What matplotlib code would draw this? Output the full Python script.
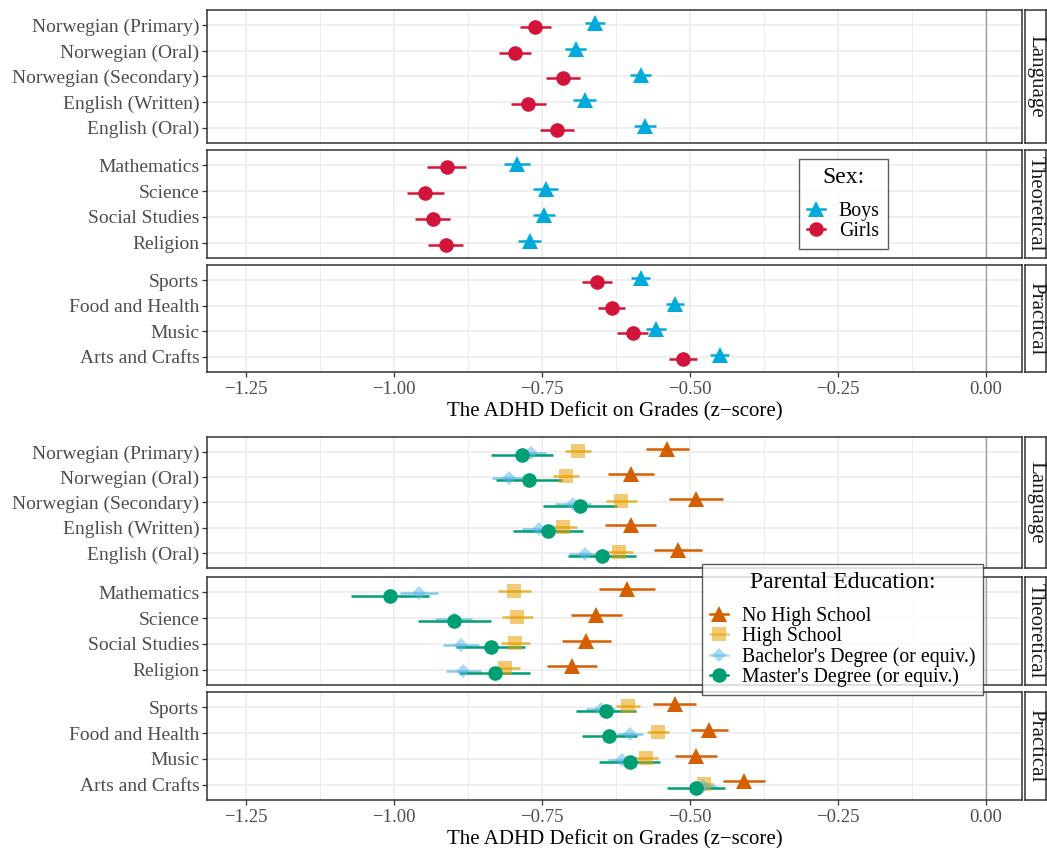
import matplotlib
matplotlib.use("Agg")
import matplotlib.pyplot as plt
from matplotlib.lines import Line2D
from matplotlib.ticker import MultipleLocator
import numpy as np

plt.rcParams["font.family"] = ["Liberation Serif", "DejaVu Serif"]

# subjects, grouped into facets
facets = ["Language", "Theoretical", "Practical"]
lang = ["Norwegian (Primary)", "Norwegian (Oral)", "Norwegian (Secondary)",
        "English (Written)", "English (Oral)"]
theo = ["Mathematics", "Science", "Social Studies", "Religion"]
prac = ["Sports", "Food and Health", "Music", "Arts and Crafts"]
subjects = [lang, theo, prac]

# estimates and 95% CI half-widths, in subject order (lang, theo, prac)
boys_est = [-0.660, -0.693, -0.583, -0.678, -0.576,
            -0.792, -0.744, -0.747, -0.771,
            -0.583, -0.525, -0.558, -0.450]
boys_ci = [0.017, 0.018, 0.018, 0.020, 0.018,
           0.022, 0.021, 0.019, 0.020,
           0.016, 0.015, 0.017, 0.016]
girls_est = [-0.761, -0.795, -0.714, -0.773, -0.725,
             -0.911, -0.947, -0.935, -0.913,
             -0.657, -0.632, -0.597, -0.512]
girls_ci = [0.026, 0.027, 0.029, 0.029, 0.029,
            0.033, 0.031, 0.029, 0.030,
            0.026, 0.023, 0.026, 0.024]

nohs_est = [-0.538, -0.600, -0.490, -0.600, -0.520,
            -0.606, -0.658, -0.675, -0.699,
            -0.526, -0.467, -0.490, -0.409]
nohs_ci = [0.037, 0.039, 0.046, 0.043, 0.040,
           0.047, 0.043, 0.041, 0.042,
           0.036, 0.032, 0.036, 0.035]
hs_est = [-0.689, -0.710, -0.616, -0.714, -0.620,
          -0.797, -0.792, -0.795, -0.812,
          -0.605, -0.554, -0.574, -0.477]
hs_ci = [0.022, 0.022, 0.026, 0.023, 0.023,
         0.028, 0.026, 0.025, 0.024,
         0.020, 0.019, 0.020, 0.016]
bach_est = [-0.769, -0.806, -0.698, -0.755, -0.678,
            -0.958, -0.899, -0.887, -0.883,
            -0.651, -0.601, -0.614, -0.478]
bach_ci = [0.025, 0.028, 0.030, 0.028, 0.027,
           0.032, 0.031, 0.030, 0.030,
           0.025, 0.022, 0.025, 0.022]
mast_est = [-0.784, -0.772, -0.686, -0.740, -0.649,
            -1.007, -0.898, -0.837, -0.830,
            -0.642, -0.636, -0.602, -0.490]
mast_ci = [0.052, 0.055, 0.062, 0.059, 0.057,
           0.066, 0.061, 0.058, 0.060,
           0.051, 0.046, 0.052, 0.049]

sex_series = [
    ("Boys", boys_est, boys_ci, "#00AADB", "^", 12, 1.0),
    ("Girls", girls_est, girls_ci, "#D2143A", "o", 10.5, 1.0),
]
edu_series = [
    ("No High School", nohs_est, nohs_ci, "#D55E00", "^", 12, 1.0),
    ("High School", hs_est, hs_ci, "#E69F00", "s", 10.5, 0.55),
    ("Bachelor's Degree (or equiv.)", bach_est, bach_ci, "#56B4E9", "D", 7.5, 0.5),
    ("Master's Degree (or equiv.)", mast_est, mast_ci, "#009E73", "o", 10.5, 1.0),
]

W, H = 1047, 848
fig = plt.figure(figsize=(W / 100, H / 100), dpi=100)


def rect(x0, y0, x1, y1):
    return [x0 / W, 1 - y1 / H, (x1 - x0) / W, (y1 - y0) / H]


PX0, PX1 = 207, 1022
XMIN, XMAX = -1.316, 0.061


def draw_block(rows, series, dodge, legend_title, legend_pos):
    offsets = np.linspace(-dodge / 2, dodge / 2, len(series))
    start = 0
    axes = []
    for k, (y0, y1) in enumerate(rows):
        ax = fig.add_axes(rect(PX0, y0, PX1, y1))
        labels = subjects[k]
        n = len(labels)
        idx = np.arange(n)
        ax.set_xlim(XMIN, XMAX)
        ax.set_ylim(n - 1 + 0.6, -0.6)
        ax.xaxis.set_major_locator(MultipleLocator(0.25))
        ax.xaxis.set_minor_locator(MultipleLocator(0.125))
        ax.grid(which="major", color="#EBEBEB", lw=1.1, zorder=0)
        ax.grid(which="minor", axis="x", color="#EBEBEB", lw=0.6, zorder=0)
        ax.tick_params(which="minor", length=0)
        ax.set_axisbelow(True)
        ax.axvline(0, color="#A0A0A0", lw=1.0, zorder=1)
        for (name, est, ci, col, mk, ms, a), off in zip(series, offsets):
            e = np.array(est[start:start + n])
            c = np.array(ci[start:start + n])
            ax.hlines(idx + off, e - c, e + c, color=col, lw=1.8, alpha=min(1, a + 0.2), zorder=2)
            ax.plot(e, idx + off, ls="none", marker=mk, ms=ms, color=col, alpha=a,
                    markeredgewidth=0, zorder=3)
        ax.set_yticks(idx)
        ax.set_yticklabels(labels, fontsize=14, color="#4D4D4D")
        ax.tick_params(axis="y", length=3.5, width=0.9, color="#333333", pad=2)
        for s in ax.spines.values():
            s.set_color("#333333")
            s.set_linewidth(1.1)
        if k < 2:
            ax.tick_params(axis="x", which="both", bottom=False, labelbottom=False)
        else:
            ax.tick_params(axis="x", length=3.5, width=0.9, color="#333333",
                           labelsize=13.5, labelcolor="#4D4D4D", pad=3)
            ax.xaxis.set_major_formatter(plt.FuncFormatter(lambda v, p: f"{v:.2f}".replace("-", "\u2212")))
            ax.set_xlabel("The ADHD Deficit on Grades (z\u2212score)", fontsize=15, labelpad=3)
        # facet strip on the right
        sax = fig.add_axes(rect(1025, y0, 1046, y1))
        sax.set_xticks([])
        sax.set_yticks([])
        for s in sax.spines.values():
            s.set_color("#333333")
            s.set_linewidth(1.1)
        sax.text(0.5, 0.5, facets[k], rotation=270, ha="center", va="center",
                 fontsize=15, color="#1A1A1A", transform=sax.transAxes)
        axes.append(ax)
        start += n

    handles = [Line2D([0], [0], color=col, marker=mk, ms=ms, alpha=a, lw=1.8,
                      markeredgewidth=0)
               for (name, est, ci, col, mk, ms, a) in series]
    names = [s[0] for s in series]
    lx, ly = legend_pos
    leg = fig.legend(handles, names, title=legend_title, loc="upper left",
                     bbox_to_anchor=(lx / W, 1 - ly / H), borderaxespad=0,
                     fontsize=14.3, title_fontsize=17, frameon=True,
                     fancybox=False, edgecolor="#333333", handlelength=0.9,
                     handletextpad=0.7, borderpad=0.4, labelspacing=0.05)
    leg.get_frame().set_linewidth(1.0)
    leg._legend_box.sep = 10
    leg.set_zorder(10)
    return axes


draw_block([(10, 143), (150, 258), (265, 372)], sex_series, 0.15,
           "Sex:", (799, 159))
draw_block([(437, 568), (577, 685), (692, 800)], edu_series, 0.25,
           "Parental Education:", (702, 564))

fig.savefig("out.png", dpi=100)
